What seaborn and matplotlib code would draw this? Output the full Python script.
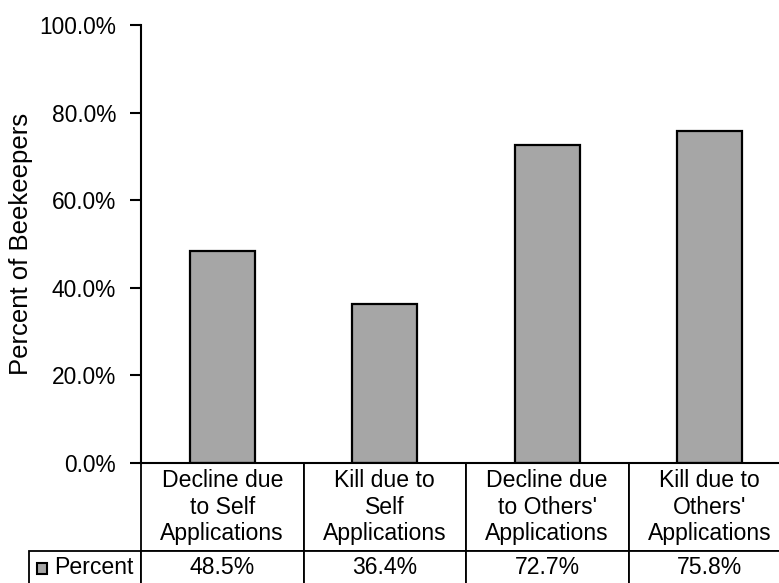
import matplotlib
matplotlib.use("Agg")
import matplotlib.pyplot as plt
import seaborn as sns
from matplotlib.patches import Rectangle
from matplotlib.ticker import FuncFormatter

# data
categories = ["Decline due\nto Self\nApplications", "Kill due to\nSelf\nApplications",
              "Decline due\nto Others'\nApplications", "Kill due to\nOthers'\nApplications"]
values = [48.5, 36.4, 72.7, 75.8]
value_labels = ["48.5%", "36.4%", "72.7%", "75.8%"]
series_name = "Percent"
ylabel = "Percent of Beekeepers"
yticks = [0, 20, 40, 60, 80, 100]

sns.set_style("white")
plt.rcParams["font.family"] = ["Liberation Sans", "DejaVu Sans"]
plt.rcParams["font.size"] = 16

bar_color = "#A6A6A6"

fig = plt.figure(figsize=(7.79, 5.83), dpi=100)
# axes extends a little past the right edge, as in the original
ax_w, ax_h = 650, 438
ax = fig.add_axes([141 / 779, 120 / 583, ax_w / 779, ax_h / 583])

sns.barplot(x=categories, y=values, color=bar_color, saturation=1,
            edgecolor="black", linewidth=1.6, width=0.4, ax=ax)

ax.set_ylim(0, 100)
ax.set_xlim(-0.5, 3.5)
ax.set_yticks(yticks)
ax.yaxis.set_major_formatter(FuncFormatter(lambda v, p: f"{v:.1f}%"))
ax.tick_params(axis="y", direction="out", length=8, width=1.5, color="black",
               labelsize=16.4, labelcolor="black", pad=10, left=True)
ax.set_xticks([])
ax.set_xlabel("")
ax.set_ylabel(ylabel, fontsize=18.5, color="black")
ax.yaxis.set_label_coords(-0.166, 0.5)

for side in ["top", "right"]:
    ax.spines[side].set_visible(False)
for side in ["left", "bottom"]:
    ax.spines[side].set_color("black")
    ax.spines[side].set_linewidth(1.5)

# data table under the chart (sizes in axes units)
head_h, row_h = 88 / ax_h, 33 / ax_h
label_w = 112 / ax_w
tbl = ax.table(cellText=[value_labels], colLabels=categories,
               cellLoc="center", colWidths=[0.25] * 4,
               bbox=[0, -(head_h + row_h), 1, head_h + row_h])
# row label cell with fixed width
tbl.add_cell(1, -1, width=label_w, height=row_h, text=series_name, loc="right")
tbl.auto_set_font_size(False)
tbl.set_fontsize(16.6)
for (r, c), cell in tbl.get_celld().items():
    cell.set_linewidth(1.3)
    cell.set_edgecolor("black")
    cell.set_height(head_h if r == 0 else row_h)
    if c == -1:
        cell.PAD = 0.07
    cell.get_text().set_color("black")

# legend key in the row label
ax.add_patch(Rectangle(((37 - 141) / ax_w, (463 - 574) / ax_h), 10 / ax_w, 11 / ax_h,
                       transform=ax.transAxes, facecolor=bar_color, edgecolor="black",
                       linewidth=1.5, clip_on=False))

fig.savefig("out.png", dpi=100)
